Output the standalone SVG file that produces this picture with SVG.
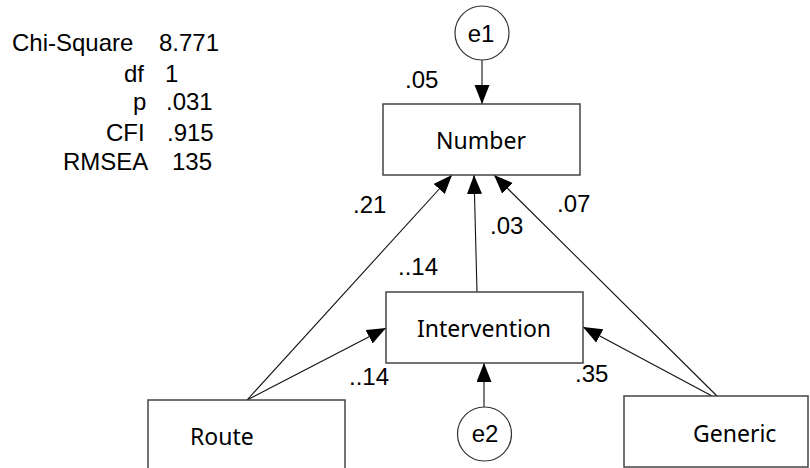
<svg xmlns="http://www.w3.org/2000/svg" width="810" height="468" viewBox="0 0 810 468">
<style>
.box{fill:#fff;stroke:#444;stroke-width:1.5}
.circ{fill:#fff;stroke:#333;stroke-width:1.2}
.lbl{font-family:"Noto Sans","Open Sans",sans-serif;font-size:23px;fill:#000}
.num{font-family:"Liberation Sans",Arial,sans-serif;font-size:24px;fill:#000}
.edge{stroke:#111;stroke-width:1.1;fill:none;marker-end:url(#arr)}
</style>
<defs>
<marker id="arr" markerUnits="userSpaceOnUse" markerWidth="20" markerHeight="16" refX="19" refY="7.5" orient="auto">
<path d="M0,0 L19,7.5 L0,15 z" fill="#000"/>
</marker>
</defs>
<rect width="810" height="468" fill="#fff"/>
<g id="stats">
<text class="num" x="12" y="51">Chi-Square</text><text class="num" x="159" y="51">8.771</text>
<text class="num" x="124" y="82">df</text><text class="num" x="165" y="82">1</text>
<text class="num" x="133" y="110">p</text><text class="num" x="166" y="110">.031</text>
<text class="num" x="106" y="141">CFI</text><text class="num" x="167" y="141">.915</text>
<text class="num" x="63" y="170">RMSEA</text><text class="num" x="172" y="170">135</text>
</g>
<g id="connectors">
<line class="edge" x1="482" y1="60" x2="482" y2="104"/>
<line class="edge" x1="247" y1="400" x2="452" y2="175"/>
<line class="edge" x1="477" y1="292" x2="474" y2="175"/>
<line class="edge" x1="717" y1="396" x2="494" y2="175"/>
<line class="edge" x1="247" y1="400" x2="386" y2="328"/>
<line class="edge" x1="712" y1="396" x2="583" y2="327"/>
<line class="edge" x1="484" y1="408" x2="484" y2="363"/>
</g>
<g id="e1">
<circle class="circ" cx="482" cy="33" r="27"/>
<text class="num" x="481" y="42" text-anchor="middle" font-size="23">e1</text>
</g>
<g id="number">
<rect class="box" x="383" y="104" width="197" height="71"/>
<text class="lbl" x="481" y="149" text-anchor="middle">Number</text>
</g>
<g id="intervention">
<rect class="box" x="386" y="292" width="197" height="71"/>
<text class="lbl" x="484" y="337" text-anchor="middle">Intervention</text>
</g>
<g id="route">
<rect class="box" x="148" y="400" width="197" height="71"/>
<text class="lbl" x="190" y="445">Route</text>
</g>
<g id="generic">
<rect class="box" x="624" y="396" width="184" height="71"/>
<text class="lbl" x="693" y="442">Generic</text>
</g>
<g id="e2">
<circle class="circ" cx="484.5" cy="434" r="27"/>
<text class="num" x="485" y="442" text-anchor="middle" font-size="23">e2</text>
</g>
<g id="edge-labels">
<text class="num" x="405" y="88">.05</text>
<text class="num" x="353" y="213">.21</text>
<text class="num" x="398" y="275">..14</text>
<text class="num" x="490" y="234">.03</text>
<text class="num" x="557" y="212">.07</text>
<text class="num" x="349" y="385">..14</text>
<text class="num" x="575" y="382">.35</text>
</g>
</svg>
